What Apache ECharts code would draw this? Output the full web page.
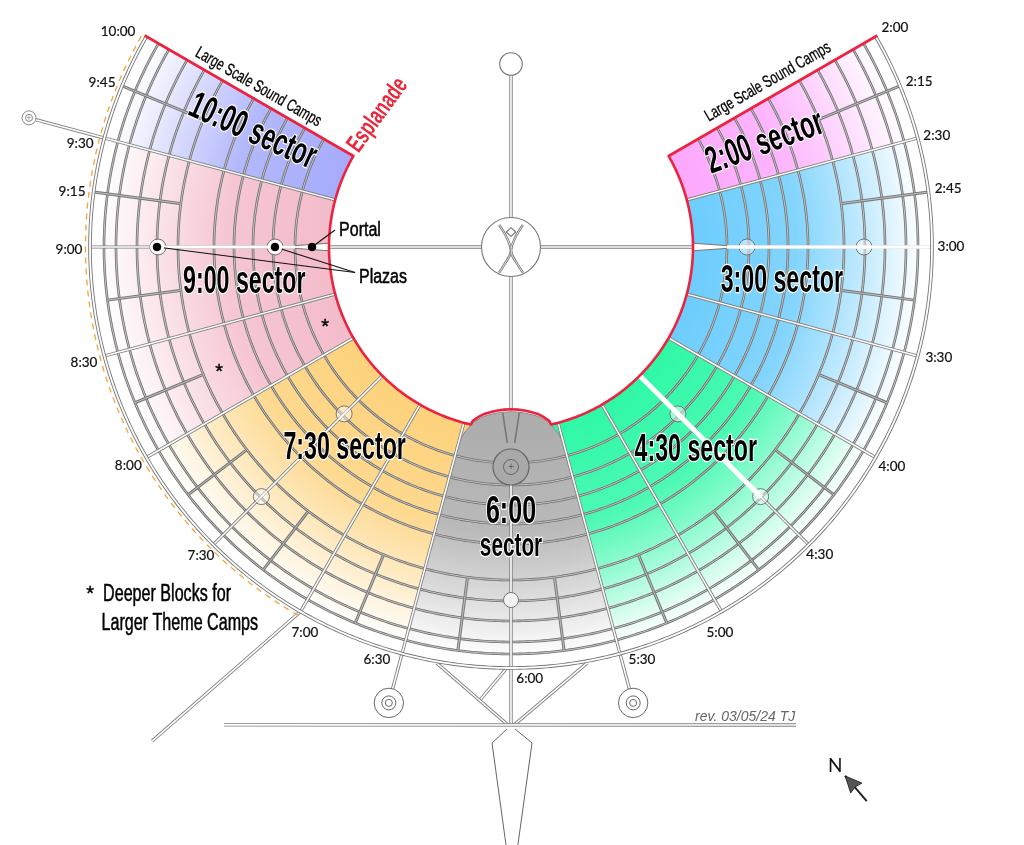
<!DOCTYPE html>
<html>
<head>
<meta charset="utf-8">
<title>City map</title>
<script src="https://cdn.jsdelivr.net/npm/echarts@6/dist/echarts.min.js"></script>
<style>
html,body{margin:0;padding:0;background:#fff;}
#main{width:1024px;height:845px;}
</style>
</head>
<body>
<div id="main"></div>
<script>
// clock hour = angle, distance from the man = radius
var ringRadii=[216,238,258,277,297,333,354,374,395,407];
var rimRadius=421;
var esplanadeRadius=182;

var sectorNames=['10:00','9:00','7:30','4:30','3:00','2:00'];
var sectorFrom=[9.5,8,6.3,4,2.5,2];
var sectorTo=[10,9.5,8,5.7,4,2.5];
var sectorColors=['#a6acfb','#f4bccb','#fdd27c','#2ef8a6','#6dcdfd','#fda8fd'];
var grayColor='#adadad';
var fadeRadii=[182,285,340,380,412];
var fadeAlpha=[1,0.85,0.5,0.22,0];

// dome of the 6:00 sector, offset in hours from 6:00
var domeOffset=[0,0.08,0.157,0.23,0.303,0.36,0.413,0.473,0.49,0.497];
var domeRadius=[164.7,165.3,166.5,168.7,171.5,175.5,180.5,192,199.6,215];
var domeRedCount=7;

var halfHours=[2.5,3,3.5,4,4.5,5,5.5,6.5,7,7.5,8,8.5,9,9.5];
var quarterHours=[2.25,2.75,3.25,3.75,4.25,4.75,5.25,5.75,6.25,6.75,7.25,7.75,8.25,8.75,9.25,9.75];
var quarterEnd=[421,421,407,407,407,407,407,407,407,407,407,407,407,407,421,421];
var quarterStart=334;

var whiteHours=[3,4.5,9,7.5];
var whiteEnd=[419,354,354,354];
var whiteWidth=[3.5,5,3,1.2];

var plazaHours=[3,4.5,7.5,9];
var plazaRadii=[236,353];
var portalHours=[3,9];

// [hour, radius, hour, radius]
var roads=[
  [0,29.5,0,172],[3,29.5,3,182],[9,29.5,9,182],[6,29.5,6,163],
  [6,238,6,421],
  [6,421,6,478],[5.5,421,5.5,458],[6.5,421,6.5,458],
  [6.338,422.6,6.012,478],[5.655,423,5.988,478],[6.023,422,6.127,453],
  [7.033,557.5,4.973,556.5],[6.997,419,7.2,610.7],[9.5,421,9.5,492]
];
var spikeLeftHours=[6.016,6.073,6.016];
var spikeRightHours=[5.984,5.919,5.978];
var spikeRadii=[482,496.4,598];

var manLeftHours=[11.05,11.2,6.11,6.71,6.83];
var manRightHours=[0.95,0.8,5.89,5.29,5.17];
var manRadii=[25,9.1,5,19.3,28.4];
var headHours=[0,0.58,0,11.42,0];
var headRadii=[19.3,15.7,10.7,15.7,19.3];

var domeRoadLeft=[[6.036,196],[6.095,166]];
var domeRoadRight=[[5.964,196],[5.905,166]];

var clockLabels=['2:00','2:15','2:30','2:45','3:00','3:30','4:00','4:30','5:00','5:30','6:00','6:30','7:00','7:30','8:00','8:30','9:00','9:15','9:30','9:45','10:00'];
var clockHours=[2.01,2.263,2.513,2.748,3,3.485,3.997,4.497,5.053,5.413,5.917,6.6,6.937,7.503,8.007,8.493,8.99,9.238,9.448,9.728,9.957];
var clockRadii=[442,440.5,440,441,440,442,439.5,436,439,433,432,434,437.5,437.7,441,442.5,442,442.4,443,440.6,448];

var titleTexts=['10:00 sector','9:00 sector','2:00 sector','3:00 sector','7:30 sector','4:30 sector','6:00','sector'];
var titleHours=[9.8,8.75,2.257,3.24,7.32,4.59,6,6];
var titleRadii=[283,269,274.5,273,261,274.6,266,300];
var titleTurn=[-24,0,20,0,0,0,0,0];

var noteTexts=['Large Scale Sound Camps','Large Scale Sound Camps','Portal','Plazas','Deeper Blocks for','Larger Theme Camps'];
var noteHours=[10.077,1.91,9.214,8.56,7.49,7.377];
var noteRadii=[299,305.4,152,131.5,489,501.7];
var noteTurn=[-30,30,0,0,0,0];

var starHours=[8.223,8.227,7.683];
var starRadii=[202.5,317.6,545.6];

var pointerFrom=[[9,199],[9,236],[9,354]];
var pointerTo=[[9.184,176.8],[8.69,158],[8.69,158]];

var chart=echarts.init(document.getElementById('main'));

function pt(api,h,r){return api.coord([r,h]);}
function arc(api,h0,h1,r){
  var n=Math.ceil(Math.abs(h1-h0)/0.02),out=[];
  for(var i=0;i<=n;i++){out.push(pt(api,h0+(h1-h0)*i/n,r));}
  return out;
}
function line(points,color,width,dash,smooth){
  return {type:'polyline',shape:{points:points,smooth:smooth||0},
    style:{fill:null,stroke:color,lineWidth:width,lineDash:dash||null,lineJoin:'round'}};
}
function street(points,edge,core,w,cw){
  return [line(points,edge,w),line(points,core,cw)];
}
function fadeFill(api,color){
  var c=pt(api,0,0),stops=[];
  for(var i=0;i<fadeRadii.length;i++){
    stops.push({offset:fadeRadii[i]/412,color:echarts.color.modifyAlpha(color,fadeAlpha[i])});
  }
  return new echarts.graphic.RadialGradient(c[0],c[1],412,stops,true);
}
function domePoints(api,shift,count){
  var out=[],i,n=count||domeOffset.length;
  // runs from the 5:30 side over the top to the 6:30 side
  for(i=n-1;i>=0;i--){out.push(pt(api,6-domeOffset[i],domeRadius[i]-shift));}
  for(i=1;i<n;i++){out.push(pt(api,6+domeOffset[i],domeRadius[i]-shift));}
  return out;
}
function circle(api,h,r,size,fill,stroke,width){
  var c=pt(api,h,r);
  return {type:'circle',shape:{cx:c[0],cy:c[1],r:size},style:{fill:fill,stroke:stroke,lineWidth:width||1}};
}
function layer(items,draw){
  return {type:'custom',coordinateSystem:'polar',silent:true,animation:false,clip:false,
    data:items.map(function(v,i){return [0,0];}),
    renderItem:function(p,api){
      var kids=draw(p.dataIndex,api);
      return {type:'group',children:kids instanceof Array?kids:[kids]};
    }};
}
function label(api,h,r,text,o){
  var c=pt(api,h,r);
  var stroke=o.halo?'#fff':(o.thick?(o.color||'#111'):null);
  return {type:'text',x:c[0],y:c[1],rotation:(o.turn||0)*Math.PI/180,scaleX:o.sx||1,
    style:{text:text,fontFamily:o.family,fontSize:o.size,fontWeight:o.weight||'normal',fontStyle:o.italic?'italic':'normal',
      fill:o.color||'#111',align:'center',verticalAlign:'middle',
      stroke:stroke,lineWidth:o.halo?2.5:(o.thick||0),
      shadowColor:o.halo?'#fff':null,shadowOffsetX:o.halo?2:0,shadowOffsetY:o.halo?2:0,shadowBlur:0}};
}
var narrow='"Liberation Sans Narrow","Liberation Sans",sans-serif';

var series=[
  // sector fills
  layer(sectorNames,function(i,api){
    var pts=arc(api,sectorFrom[i],sectorTo[i],esplanadeRadius).concat(arc(api,sectorTo[i],sectorFrom[i],412));
    return {type:'polygon',shape:{points:pts},style:{fill:fadeFill(api,sectorColors[i])}};
  }),
  // 6:00 sector, white first so the neighbours do not show through its fade
  layer(['6:00'],function(i,api){
    var pts=arc(api,6.5,5.5,412).concat(domePoints(api,0));
    return [
      {type:'polygon',shape:{points:pts},style:{fill:'#fff'}},
      {type:'polygon',shape:{points:pts},style:{fill:fadeFill(api,grayColor)}},
      line(domePoints(api,0),'#8a8a8a',1)
    ];
  }),
  // rings
  layer(ringRadii,function(i,api){
    return street(arc(api,2,10,ringRadii[i]),'#707070','rgba(255,255,255,0.6)',2.6,1);
  }),
  // quarter hour streets
  layer(quarterHours,function(i,api){
    return street([pt(api,quarterHours[i],quarterStart),pt(api,quarterHours[i],quarterEnd[i])],'#777','rgba(255,255,255,0.55)',3,1);
  }),
  // half hour streets
  layer(halfHours,function(i,api){
    return street([pt(api,halfHours[i],esplanadeRadius),pt(api,halfHours[i],rimRadius)],'#808080','#fff',3.2,1.5);
  }),
  // roads outside the sectors
  layer(roads,function(i,api){
    var r=roads[i];
    return street([pt(api,r[0],r[1]),pt(api,r[2],r[3])],'#808080','#fff',3.4,1.6);
  }),
  // rim
  layer(['rim'],function(i,api){
    return street(arc(api,2,10,rimRadius),'#777','#fff',3.6,1.8);
  }),
  layer(['dash'],function(i,api){
    return line(arc(api,7,10,425.5),'#f2a53a',1.3,[6,5]);
  }),
  // plazas
  layer(plazaHours,function(i,api){
    return [
      circle(api,plazaHours[i],plazaRadii[0],8,'rgba(255,255,255,0.45)','#777'),
      circle(api,plazaHours[i],plazaRadii[1],8,'rgba(255,255,255,0.45)','#777')
    ];
  }),
  layer(whiteHours,function(i,api){
    return line([pt(api,whiteHours[i],esplanadeRadius),pt(api,whiteHours[i],whiteEnd[i])],'#fff',whiteWidth[i]);
  }),
  // wedge where the 3:00 and 9:00 streets open onto the esplanade
  layer(portalHours,function(i,api){
    var h=portalHours[i];
    var pts=[pt(api,h-0.04,182),pt(api,h-0.012,216),pt(api,h+0.012,216),pt(api,h+0.04,182)];
    return [{type:'polygon',shape:{points:pts},style:{fill:'#fff'}},
      line([pts[0],pts[1]],'#777',1),line([pts[3],pts[2]],'#777',1)];
  }),
  // 6:00 sector details
  layer(['center'],function(i,api){
    return [
      line([pt(api,domeRoadLeft[0][0],domeRoadLeft[0][1]),pt(api,domeRoadLeft[1][0],domeRoadLeft[1][1])],'#777',1.6),
      line([pt(api,domeRoadRight[0][0],domeRoadRight[0][1]),pt(api,domeRoadRight[1][0],domeRoadRight[1][1])],'#777',1.6),
      circle(api,6,220,18,'#a9a9a9','#666',1.2),
      circle(api,6,220,7.5,'#a9a9a9','#666',1),
      label(api,6,220,'+',{family:'DejaVu Sans',size:8,color:'#555'}),
      circle(api,6,353,7.5,'#f3f3f3','#777')
    ];
  }),
  // the man, north circle, spur plaza, south plazas, spike
  layer(['man'],function(i,api){
    var ml=manLeftHours.map(function(h,k){return pt(api,h,manRadii[k]);});
    var mr=manRightHours.map(function(h,k){return pt(api,h,manRadii[k]);});
    var head=headHours.map(function(h,k){return pt(api,h,headRadii[k]);});
    var sl=spikeLeftHours.map(function(h,k){return pt(api,h,spikeRadii[k]);});
    var sr=spikeRightHours.map(function(h,k){return pt(api,h,spikeRadii[k]);});
    return [
      circle(api,0,0,29.5,'#fff','#777',1.1),
      circle(api,0,183,11.3,'#fff','#777',1.1),
      line(ml,'#777',2.4,null,0.4),line(ml,'#fff',0.8,null,0.4),
      line(mr,'#777',2.4,null,0.4),line(mr,'#fff',0.8,null,0.4),
      line(head,'#777',1.1),
      circle(api,9.5,499,7,'#fff','#888',1),
      circle(api,9.5,499,3.5,'#fff','#888',1),
      label(api,9.5,499,'+',{family:'DejaVu Sans',size:7,color:'#777'}),
      circle(api,6.5,472,14.7,'#fff','#666',1),
      circle(api,6.5,472,7,'#fff','#666',1),
      circle(api,6.5,472,3.5,'#fff','#666',1),
      circle(api,5.5,472,14.7,'#fff','#666',1),
      circle(api,5.5,472,7,'#fff','#666',1),
      circle(api,5.5,472,3.5,'#fff','#666',1),
      line(sl,'#666',1),
      line(sr,'#666',1)
    ];
  }),
  // esplanade, one unbroken line over the dome
  layer(['esplanade'],function(i,api){
    var pts=[pt(api,2,423)].concat(arc(api,2,5.575,esplanadeRadius));
    pts=pts.concat(domePoints(api,2.5,domeRedCount));
    pts=pts.concat(arc(api,6.425,10,esplanadeRadius));
    pts.push(pt(api,10,423));
    return line(pts,'#ec2340',2.6);
  }),
  // pointers and dots on the 9:00 street
  layer(pointerFrom,function(i,api){
    var a=pointerFrom[i],b=pointerTo[i];
    var kids=[line([pt(api,a[0],a[1]),pt(api,b[0],b[1])],'#111',1.1)];
    if(i>0){kids.push(circle(api,a[0],a[1],6.5,'#fff','#fff'));}
    kids.push(circle(api,a[0],a[1],3.8,'#000','#000'));
    return kids;
  }),
  // text
  layer(clockLabels,function(i,api){
    return label(api,clockHours[i],clockRadii[i],clockLabels[i],{family:'Lato',size:13.5,color:'#111',thick:0.2});
  }),
  layer(titleTexts,function(i,api){
    return label(api,titleHours[i],titleRadii[i],titleTexts[i],{family:narrow,weight:'bold',size:i==7?34:38,sx:i==6?0.66:0.61,turn:titleTurn[i],halo:true,color:'#000'});
  }),
  layer(noteTexts,function(i,api){
    var sz=i<2?17:(i<4?20:23);
    return label(api,noteHours[i],noteRadii[i],noteTexts[i],{family:narrow,size:sz,sx:i<2?0.7:(i<4?0.8:0.7),turn:noteTurn[i],color:'#000',thick:i<2?0.3:0.5});
  }),
  layer(starHours,function(i,api){
    return label(api,starHours[i],starRadii[i],'*',{family:'Liberation Sans',size:20,color:'#000',thick:0.4});
  }),
  layer(['esplanade text'],function(i,api){
    return label(api,10.49,187.4,'Esplanade',{family:narrow,weight:'bold',size:25,sx:0.68,turn:54,color:'#e8283c'});
  }),
  layer(['rev'],function(i,api){
    return [
      label(api,5.117,525,'rev. 03/05/24 TJ',{family:narrow,size:14,italic:true,color:'#666'}),
      label(api,4.933,611.8,'N',{family:'Lato',size:19,color:'#111'}),
      line([pt(api,4.924,625.6),pt(api,4.91,658.5)],'#222',2),
      {type:'polygon',shape:{points:[pt(api,4.924,625.6),pt(api,4.893,640.7),pt(api,4.917,640.3),pt(api,4.937,643)]},style:{fill:'#555',stroke:'#111',lineWidth:0.8}}
    ];
  })
];

var option={
  animation:false,
  backgroundColor:'#fff',
  polar:{center:[511,247],radius:700},
  angleAxis:{type:'value',min:0,max:12,startAngle:90,clockwise:true,show:false},
  radiusAxis:{type:'value',min:0,max:700,show:false},
  series:series
};
chart.setOption(option);
</script>
</body>
</html>
